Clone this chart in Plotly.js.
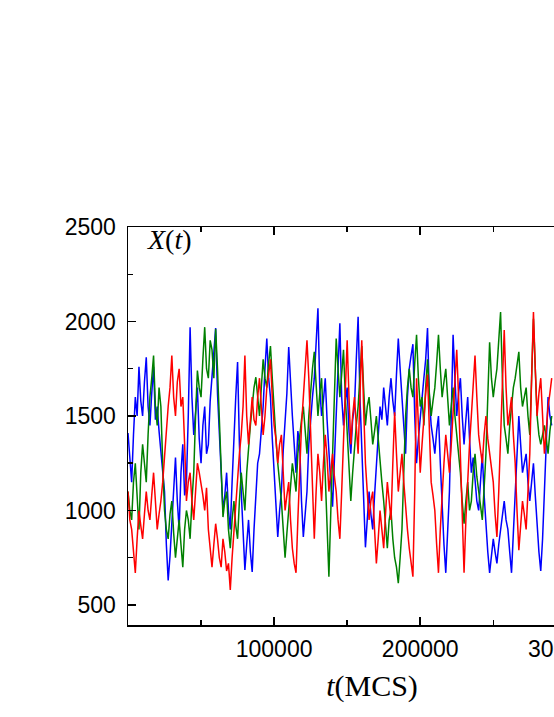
<!DOCTYPE html>
<html>
<head>
<meta charset="utf-8">
<script src="https://cdn.plot.ly/plotly-3.0.1.min.js"></script>
<style>
html,body{margin:0;padding:0;overflow:hidden;background:#fff;width:554px;height:717px;}
#chart{width:800px;height:717px;}
</style>
</head>
<body>
<div id="chart"></div>
<script>
// time step of the sampled series (MCS)
const tStep = 1250;

const blueX = [
 1410,1250,1150,1400,1600,1500,1760,1580,1500,1680,1810,1550,1450,1620,1760,1480,1550,1420,1300,1180,
 1100,820,630,760,950,1150,1280,1050,900,1200,1350,1080,1150,1500,1970,1600,1400,1520,1650,1380,
 1250,1450,1550,1300,1350,1580,1700,1850,1965,1620,1400,1150,1000,1080,1200,1000,900,1150,1400,1600,
 1785,1350,1100,880,685,820,950,780,675,900,1100,1250,1300,1420,1550,1750,1910,1700,1600,1380,
 1200,980,860,1000,1100,1320,1450,1620,1865,1650,1500,1350,1200,1420,1350,1050,860,980,1100,1350,
 1500,1600,1700,1880,2070,1650,1500,1580,1700,1480,1300,1150,1020,1250,1500,1780,1990,1600,1450,1580,
 1650,1420,1300,1480,1550,1800,2025,1600,1350,1050,805,950,1100,980,900,1080,1250,1400,1550,1480,
 1650,1550,1450,1600,1700,1580,1500,1720,1910,1750,1600,1420,1300,1600,1750,1820,1880,1500,1250,1380,
 1500,1620,1700,1800,1965,1600,1450,1380,1300,1420,1500,1250,1000,820,670,900,1100,1500,1930,1700,
 1500,1620,1700,1500,1350,1480,1600,1380,1200,1280,1150,1050,1000,1150,1300,1080,900,780,670,760,
 850,780,720,820,900,980,1050,950,900,780,670,880,1100,1300,1500,1350,1200,1250,1300,1150,
 1050,1150,1250,1080,900,780,680,850,1100,1350,1600,1500,1450
];

const greenX = [
 1100,1000,950,1150,1250,1050,900,1200,1350,1250,1150,1400,1600,1700,1820,1550,1450,1650,1550,1250,
 1000,900,850,980,1050,880,750,850,950,820,700,900,1000,950,850,1050,1200,1500,1740,1650,
 1600,1800,1970,1750,1700,1900,1850,1700,1960,1750,1500,1200,965,1050,1100,900,800,950,1050,920,
 850,1050,1200,1100,1000,1200,1350,1450,1550,1650,1705,1600,1500,1650,1800,1700,1650,1780,1870,1700,
 1500,1380,1250,1150,1050,900,750,880,1000,1150,1250,1180,1100,1300,1400,1480,1550,1420,1300,1500,
 1650,1750,1840,1650,1500,1620,1700,1450,1200,900,650,980,1300,1600,1910,1750,1600,1720,1850,1600,
 1400,1200,1050,1200,1350,1450,1550,1700,1870,1650,1450,1550,1600,1480,1350,1420,1500,1380,1250,1150,
 1050,900,800,950,1000,850,750,700,615,750,900,1200,1500,1650,1750,1650,1600,1780,1930,1700,
 1550,1600,1450,1650,1800,1620,1500,1580,1650,1780,1930,1750,1600,1680,1750,1600,1450,1550,1650,1500,
 1400,1300,1200,1050,930,1050,1150,1000,1050,1200,1300,1180,1100,1000,950,1120,1300,1600,1890,1700,
 1600,1680,1750,1900,2050,1700,1450,1380,1300,1450,1550,1650,1700,1780,1840,1650,1550,1600,1650,1500,
 1400,1700,2015,1750,1500,1400,1350,1400,1450,1380,1300,1420,1500
];

const redX = [
 1100,950,900,780,670,850,1000,920,850,980,1100,1000,950,1080,1200,1050,900,980,1050,1150,
 1300,1450,1550,1650,1820,1600,1500,1680,1750,1550,1600,1350,1050,1150,1200,1050,950,1100,1250,1200,
 1150,1080,1000,1120,900,800,700,820,930,850,750,700,850,780,680,720,580,750,900,1050,
 1150,1300,1400,1550,1820,1500,1350,1500,1600,1480,1450,1600,1700,1550,1400,1500,1650,1720,1800,1600,
 1450,1380,1250,1350,1400,1200,1000,1080,1150,950,800,720,670,950,1250,1450,1600,1750,1900,1700,
 1450,1150,850,1100,1300,1200,1050,1250,1400,1280,1100,1200,1300,1180,1100,950,850,1100,1400,1650,
 1900,1600,1350,1500,1600,1450,1300,1600,1900,1550,1250,1100,950,1050,1100,900,720,850,1000,900,
 800,980,1150,1050,950,1250,1520,1300,1100,1200,1300,1150,1000,900,800,720,650,1100,1700,1450,
 1200,1350,1500,1620,1720,1400,1150,1080,1000,820,670,900,1100,1250,1400,1300,1200,1350,1500,1650,
 1850,1600,1300,1000,670,950,1200,1350,1500,1650,1820,1600,1400,1320,1250,1400,1500,1380,1300,1250,
 1150,980,860,1100,1400,1700,1955,1650,1450,1520,1600,1400,1250,1000,790,920,1050,980,900,1100,
 1300,1700,2050,1750,1500,1620,1700,1500,1300,1420,1550,1620,1700
];

const series = [
  {name: 'blue', y: blueX, color: '#0000ff'},
  {name: 'green', y: greenX, color: '#008000'},
  {name: 'red', y: redX, color: '#ff0000'}
];

const traces = series.map(s => ({
  x: s.y.map((_, i) => i * tStep), y: s.y, type: 'scatter', mode: 'lines', name: s.name,
  line: {color: s.color, width: 1.5}, hoverinfo: 'skip'
}));

const tickFont = {family: 'Liberation Sans, Arial, sans-serif', size: 23, color: '#000'};

const layout = {
  width: 800, height: 717,
  margin: {l: 128, r: 184, t: 227, b: 92},
  paper_bgcolor: '#fff', plot_bgcolor: '#fff',
  showlegend: false,
  xaxis: {
    range: [0, 334000], showgrid: false, zeroline: false,
    showline: true, linecolor: '#000', linewidth: 1.5, mirror: 'ticks',
    ticks: 'inside', ticklen: 8, tickwidth: 1.5, tickcolor: '#000',
    tickvals: [100000, 200000, 300000], tickformat: 'd',
    minor: {tickvals: [50000, 150000, 250000], ticks: 'inside', ticklen: 5, tickwidth: 1.5, tickcolor: '#000'},
    tickfont: tickFont, ticklabelstandoff: 3,
    title: {text: '<i>t</i>(MCS)', font: {family: 'Liberation Serif, Times New Roman, serif', size: 30, color: '#000'}, standoff: 14}
  },
  yaxis: {
    range: [394, 2500], showgrid: false, zeroline: false,
    showline: true, linecolor: '#000', linewidth: 1.5, mirror: 'ticks',
    ticks: 'inside', ticklen: 8, tickwidth: 1.5, tickcolor: '#000',
    tickvals: [500, 1000, 1500, 2000, 2500], tickformat: 'd',
    minor: {tickvals: [750, 1250, 1750, 2250], ticks: 'inside', ticklen: 5, tickwidth: 1.5, tickcolor: '#000'},
    tickfont: tickFont, ticklabelstandoff: 6
  },
  annotations: [{
    xref: 'paper', yref: 'paper', x: 0.035, y: 1.012, xanchor: 'left', yanchor: 'top',
    text: '<i>X</i>(<i>t</i>)', showarrow: false,
    font: {family: 'Liberation Serif, Times New Roman, serif', size: 28, color: '#000'}
  }]
};

Plotly.newPlot('chart', traces, layout, {staticPlot: true, displayModeBar: false});
</script>
</body>
</html>
